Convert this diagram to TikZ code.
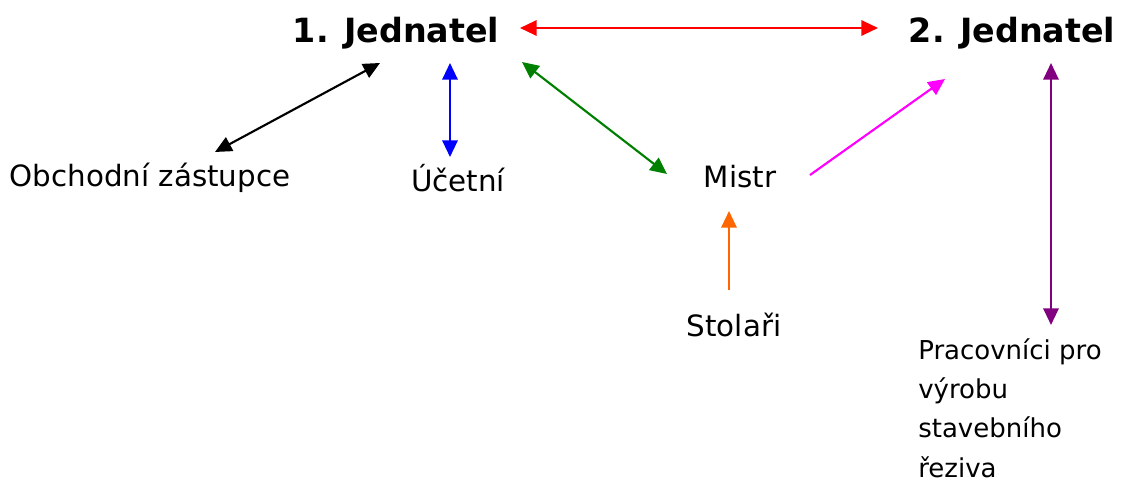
\documentclass[tikz,border=0pt]{standalone}
\usepackage{fontspec}
\setmainfont{DejaVu Sans}
\usetikzlibrary{arrows.meta}
\definecolor{darkgreen}{RGB}{0,128,0}
\definecolor{carrot}{RGB}{255,102,0}
\definecolor{plum}{RGB}{128,0,128}
\definecolor{pink}{RGB}{255,0,255}
\tikzset{
  tip/.tip={Triangle[length=12.5pt,width=11.5pt]},
  link/.style={line width=1.6pt, tip-tip},
  oneway/.style={line width=1.6pt, -tip},
  boss/.style={font=\bfseries\fontsize{25}{30}\selectfont, inner sep=0pt},
  staff/.style={font=\fontsize{22}{29}\selectfont, inner sep=0pt},
}
\begin{document}
\begin{tikzpicture}[x=0.75pt,y=-0.75pt]
    \useasboundingbox (0,0) rectangle (1122,484);
    %% people
    \node[boss] (j1) at (396,33) {1. Jednatel};
    \node[boss] (j2) at (1012,33) {2. Jednatel};
    \node[staff] (oz) at (150,178) {Obchodní zástupce};
    \node[staff] (uc) at (458,178) {Účetní};
    \node[staff] (mi) at (740,177) {Mistr};
    \node[staff] (st) at (734,325) {Stolaři};
    \node[staff, font=\fontsize{19.5}{29.5}\selectfont, anchor=north west, align=left]
        (pr) at (918,338) {Pracovníci pro\\výrobu\\stavebního\\řeziva};

    %% links between them
    \draw[link, red] ([shift={(124,-5)}]j1.center) -- ([shift={(-134,-5)}]j2.center);
    \draw[link, black] ([shift={(-16,30)}]j1.center) -- ([shift={(65,-26)}]oz.center);
    \draw[link, blue] ([shift={(54,30)}]j1.center) -- ([shift={(-8,-21)}]uc.center);
    \draw[link, darkgreen] ([shift={(126,29)}]j1.center) -- ([shift={(-73,-3)}]mi.center);
    \draw[oneway, pink] ([shift={(70,-2)}]mi.center) -- ([shift={(-67,46)}]j2.center);
    \draw[oneway, carrot] ([shift={(-5,-35)}]st.center) -- ([shift={(-11,34)}]mi.center);
    \draw[link, plum] ([shift={(39,30)}]j2.center) -- ([shift={(133,-13)}]pr.north west);
\end{tikzpicture}
\end{document}
